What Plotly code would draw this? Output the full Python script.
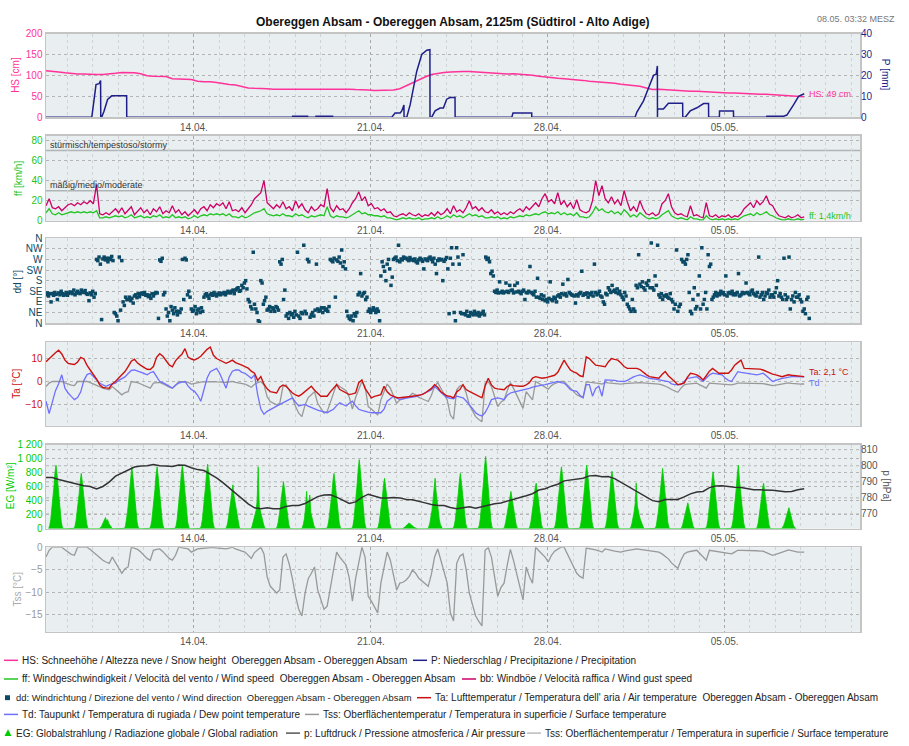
import pandas as pd
import plotly.graph_objects as go

W, H = 909, 746
FONT = "Liberation Sans, Arial, sans-serif"

START = "2024-04-08 03:30"
X_RANGE = ["2024-04-08 03:30", "2024-05-10 08:30"]
TICK_DATES = ["2024-04-14", "2024-04-21", "2024-04-28", "2024-05-05"]
TICK_LABELS = ["14.04.", "21.04.", "28.04.", "05.05."]

# ---------------- data ----------------
# snow height, 6-hourly [cm]
HS = [111,110,108,106, 104,103,103,102, 102,102,103,105, 107,107,106,104, 99,98,98,97,
      92,92,91,90, 86,85,85,83, 80,78,77,73, 70,69,69,68, 67,67,67,67, 67,67,68,68,
      68,68,68,67, 67,66,66,65, 64,64,64,65, 68,75,82,90, 96,102,105,107, 108,109,109,109,
      108,108,107,106, 104,103,104,103, 101,100,98,96, 94,93,92,91, 89,88,86,85,
      83,82,81,79, 77,76,74,70, 66,67,66,65, 63,62,62,62, 61,61,60,59, 58,58,57,57,
      56,55,55,54, 53,52,52,51, 49]

# precipitation (accumulating, reset) [mm]
P_TIME = ["2024-04-08 03:30","2024-04-09 23:00","2024-04-10 03:00","2024-04-10 05:50","2024-04-10 07:20",
          "2024-04-10 07:30","2024-04-10 08:20","2024-04-10 10:35","2024-04-10 14:00","2024-04-10 17:55",
          "2024-04-11 08:05","2024-04-11 08:10","2024-04-17 21:40","2024-04-17 21:45","2024-04-18 11:55",
          "2024-04-18 12:00","2024-04-18 19:50","2024-04-18 19:55","2024-04-19 11:40","2024-04-19 11:45",
          "2024-04-21 19:50","2024-04-21 23:00","2024-04-22 03:50","2024-04-22 05:20","2024-04-22 07:25",
          "2024-04-22 07:30","2024-04-22 10:05","2024-04-22 13:20","2024-04-22 19:35","2024-04-23 00:20",
          "2024-04-23 05:05","2024-04-23 08:05","2024-04-23 08:10","2024-04-23 09:45","2024-04-23 13:00",
          "2024-04-23 17:45","2024-04-23 20:55","2024-04-24 00:00","2024-04-24 03:10","2024-04-24 07:55",
          "2024-04-24 08:00","2024-04-26 13:50","2024-04-26 15:00","2024-04-27 08:45","2024-04-27 08:50",
          "2024-05-01 10:55","2024-05-01 12:30","2024-05-01 18:55","2024-05-01 23:40","2024-05-02 04:25",
          "2024-05-02 06:55","2024-05-02 08:05","2024-05-02 08:10","2024-05-02 08:15","2024-05-02 13:50",
          "2024-05-02 17:00","2024-05-02 18:35","2024-05-03 08:05","2024-05-03 08:10","2024-05-03 10:30",
          "2024-05-03 15:15","2024-05-03 21:35","2024-05-04 04:00","2024-05-04 08:40","2024-05-04 08:45",
          "2024-05-04 19:00","2024-05-04 19:05","2024-05-05 08:20","2024-05-05 08:25","2024-05-06 16:00",
          "2024-05-06 16:05","2024-05-07 07:55","2024-05-07 11:05","2024-05-07 17:30","2024-05-07 22:10",
          "2024-05-08 03:30"]
P_VAL = [0,0,15.6,16,17.5, 0,0,2.8,8.5,10.2, 10.2,0,0,0.5,0.5, 0,0,0.5,0.5,0,
         0,2,2,3,5.8, 0,0,6,22,30, 32,32.3,0,0,3, 4.4,4.4,8.6,9.4,9.4,
         0,0,2,2,0, 0,2.3,7.8,14,20, 20.5,24.5,0,3.9,3.9, 5.5,6.7,6.7,0,0,
         3,4.5,6.5,6.5,0, 0,3,3,0,0, 0.5,0.5,1,6,10, 11.2]

# wind gust bb and wind speed ff, 3-hourly [km/h]
BB = [15,22,13,12,14, 10,13,16,17,15, 18,16,19,17,20, 17,36,7,6,8, 6,9,12,8,13, 7,10,14,6,9,
      13,8,11,6,12, 9,14,7,10,8, 15,8,11,6,9, 5,8,11,7,12, 14,10,16,13,17, 15,18,12,19,10,
      11,9,13,8,12, 16,22,25,28,40, 18,15,12,16,13, 19,12,14,10,20, 13,17,11,8,14, 10,12,16,14,32,
      13,9,15,11,12, 8,12,18,22,29, 20,24,15,17,12, 13,10,12,8,9, 5,4,6,7,5, 8,6,5,7,4,
      6,5,8,5,9, 6,8,12,7,15, 9,11,8,13,20, 12,14,10,13,9, 8,11,7,9,6, 8,6,9,7,10,
      12,9,14,11,15, 18,14,22,27,19, 21,17,28,16,20, 14,18,12,21,11, 9,8,10,20,40, 25,35,22,18,24,
      17,21,15,30,19, 10,14,9,20,12, 7,6,8,5,7, 17,20,27,14,8, 6,7,5,4,15, 5,6,4,3,18,
      5,4,6,3,5, 4,6,3,5,4, 7,12,15,18,13, 20,16,19,25,17, 15,9,5,4,3, 5,3,4,6,3, 4]
FF = [8,12,7,6,8, 6,7,8,9,8, 9,8,9,8,9, 8,10,3,3,4, 3,4,5,4,5, 3,4,6,3,4,
      5,3,4,3,5, 4,6,3,4,3, 6,3,4,3,4, 2,3,5,3,5, 6,5,7,6,7, 6,7,5,7,4,
      4,3,5,3,4, 6,8,9,10,12, 7,6,5,6,5, 7,5,5,4,7, 5,6,4,3,5, 4,5,6,5,14,
      5,3,5,4,4, 3,4,6,8,10, 7,8,6,6,5, 5,4,5,3,3, 2,1,2,3,2, 3,2,2,3,1,
      2,2,3,2,4, 2,3,5,3,6, 4,5,3,5,7, 5,6,4,5,3, 3,4,3,4,2, 3,2,4,3,4,
      5,4,6,5,6, 7,6,8,9,7, 8,7,9,6,8, 6,7,5,8,4, 4,3,4,8,14, 10,12,9,8,10,
      7,9,6,11,8, 4,6,4,8,5, 3,2,3,2,3, 6,8,10,5,3, 2,3,2,1,4, 2,2,1,1,5,
      2,1,2,1,2, 1,2,1,2,1, 3,5,6,7,5, 8,6,7,9,6, 5,3,2,1,1, 2,1,1,2,1, 1.4]

# wind direction samples per 6-hour slot [deg]
DD_SLOTS = [
    [120,128,115,125,90],[125,118,130,122,100],[128,120,135,125,118],[122,130,118,126,132],
    [130,125,140,120,128],[135,128,125,140,132],[130,138,125,122,95],[128,120,135,110,125],
    [270,265,280,250,15],[272,280,268,275,260],[275,270,282,265,45],[40,30,10,280,55],
    [265,90,75,110,100],[100,110,95,105,85],[115,120,108,125,112],[125,128,122,130,118],
    [120,112,118,105,125],[115,125,130,128,20],[268,262,275,120,130],[60,30,45,10,70],
    [55,40,65,50,35],[50,45,60,270,100],[275,268,120,135,110],[60,50,55,70,40],
    [55,60,45,65,50],[110,120,125,115,105],[120,125,118,130,122],[115,122,128,120,125],
    [125,130,120,128,135],[130,128,135,140,125],[140,145,150,135,138],[160,150,170,180,145],
    [100,90,70,60,300],[80,60,45,10,5],[180,170,80,95,110],[55,60,70,50,65],
    [60,50,70,65,55],[260,250,270,100,140],[30,40,20,45,35],[40,25,50,35,300],
    [30,20,45,40,330],[50,40,270,260,25],[35,45,30,55,250],[60,50,55,65,45],
    [65,55,60,50,70],[270,265,260,275,110],[268,262,280,255,310],[240,260,230,50,30],
    [20,15,30,10,40],[30,45,120,130,210],[115,125,130,100,110],[50,60,45,55,65],
    [55,45,60,50,10],[200,260,240,220,180],[250,270,230,160,195],[270,275,280,265,330],
    [260,272,268,280,275],[275,270,265,278,268],[270,265,272,260,255],[268,275,270,262,230],
    [272,268,265,275,280],[270,260,275,250,210],[265,272,268,270,180],[262,270,278,230,40],
    [275,320,250,45,10],[320,280,250,45,40],[290,40,35,50,30],[30,45,40,35,50],
    [40,35,45,30,38],[42,50,35,280,270],[275,260,210,220,200],[135,130,140,128,175],
    [130,135,128,132,170],[135,130,160,138,140],[128,160,132,170,135],[130,125,135,140,100],
    [130,128,135,240,130],[125,120,135,110,190],[110,105,120,100,115],[95,100,90,105,175],
    [100,95,110,105,90],[115,120,110,125,165],[120,125,115,185,130],[125,120,118,115,85],
    [120,115,125,130,220],[118,125,122,128,110],[125,120,130,115,250],[130,120,125,135,115],
    [110,90,80,125,120],[150,140,130,160,135],[140,130,145,125,135],[120,110,100,130,115],
    [80,70,60,50,100],[60,50,160,150,290],[165,155,175,150,140],[170,160,180,150,340],
    [150,140,200,160,330],[120,110,125,100,115],[115,120,110,105,125],[100,90,60,80,310],
    [50,70,80,270,260],[260,250,270,290,130],[50,40,100,150,60],[70,120,200,60,320],
    [80,100,130,60,290],[240,250,100,110,120],[130,115,125,120,135],[125,130,120,200,115],
    [128,130,125,135,120],[125,120,130,210,115],[120,130,125,128,170],[130,125,120,135,140],
    [125,120,115,130,280],[110,120,130,100,115],[130,125,140,110,120],[120,110,130,150,180],
    [115,125,110,100,275],[120,100,110,280,60],[100,115,90,130,110],[110,120,100,90,50],
    [60,40,100,110,20]]

# air temperature, dew point, surface temperature, 3-hourly [°C]
TA = [8.6,10,11,12.5,13.6,12,9.3,7.9,7.6,7.4, 8.5,10.5,9.8,7,5,3.2,1,-1.4,-2.6,-2.8,
      -2.9,-1,0,1.5,3,4.3,6.5,8.8,9.7,8, 7,6.2,5.3,5.2,6.5,10.5,12.1,11,9,7.2,
      6.4,9,10.5,11.8,14.3,10.5,9.8,9.4,10,11, 12.5,14,15,11.4,10,9.3,8.5,7.9,8.5,9.3,
      8.2,7.8,7.1,6.5,5.8,4.5,3.6,0.5,2.1,-1.2, -3.2,-4.4,-4.8,-5,-2.5,-1.5,-2.1,-3.5,-5,-5.8,
      -6.4,-5.5,-4.3,-3,-2.1,-3.8,-5.2,-6.4,-6.4,-6.4, -4.5,-2.9,-1.4,-3.5,-4.3,-5,-5.7,-5.4,-5,-0.5,
      0.7,-3,-5.2,-7.1,-6.5,-6,-5.7,-2.1,-4.5,-5.8, -6.5,-7,-7.1,-7,-6.8,-6.6,-6.4,-6.2,-6,-5.7,
      -5,-4,-3,-1.4,-2.5,-4.5,-5.5,-6.3,-6.5,-7.1, -4.5,-3.5,-1.4,-3.5,-4.3,-5,-5.7,-6.5,-7.1,-2,
      1.4,-1.5,-2.9,-3.2,-3.5,-3.6,-2.2,-1.4,-1.8,-2.1, -2.1,-2.1,-1.5,-0.5,1.5,2.1,1.6,1.4,1.6,2,
      2.3,2.7,4,6.5,9.3,7,5,4.2,3.6,2.5, 2.1,10.7,10,8.5,7.1,6.9,6.6,6.4,8.5,10,
      9.6,9.3,8,6.5,5.7,5.7,5.7,5.7,5.2,4, 3,2.1,1.9,1.6,1.4,3,4.3,2.5,1.4,0,
      -1.4,-1,-0.7,1.8,3.6,3.3,2.9,2,0.7,2.5, 4.5,5.7,4.8,3.6,3.6,3.6,3.6,5,7.1,8.2,
      9.3,5.7,5.7,5.7,5.7,5.7,5.4,5,4.3,3.6, 3.2,2.9,2.5,2.1,2.5,2.9,2.7,2.5,2.2,2.1,2.1]
TD = [-8.6,-14,-9,-4,-1,2.9,-2.9,-5,-6.5,-7.9, -7,-4.5,0.5,3,3.6,2.1,0.5,-0.7,-1.5,-2.1,
      -1.5,-1,-0.7,0.5,1.4,2,3.5,4.8,5,4.5, 4.3,3.5,2.9,3.8,4.3,2,0,-0.5,-1.4,-2,
      -2.9,-1.5,-0.7,-0.3,0,-2,-3.5,-4.3,-6,-8.6, -3,1.5,4.3,5,5.7,3.5,0,-2.9,2,4.5,
      5,5,4,3.6,2.5,1.4,2.9,-5.7,-12,-14.3, -13,-12.1,-11.5,-10.7,-10,-9.3,-8.6,-8,-7.1,-9,
      -10.7,-10.3,-10,-10.7,-11.4,-12,-12.5,-12.9,-13.2,-13.6, -12.8,-12.1,-10.5,-9.3,-10,-10.7,-9.5,-8.6,-10.5,-12.1,
      -12.6,-13.1,-13.3,-13.6,-13.6,-13.6,-13.6,-12,-8.6,-7.5, -6.4,-7.2,-7.9,-7.5,-7.3,-7.1,-7.1,-6.6,-6.2,-5.7,
      -5,-4.3,-3.6,-2.1,-3.5,-5,-6,-7,-7.1,-7.5, -6.4,-6.8,-7.1,-8.5,-10,-11.8,-13.6,-14.5,-15,-13.5,
      -11,-7.9,-7.5,-7.1,-7.5,-7.9,-6,-5,-4.6,-4.3, -4,-3.8,-3.6,-3,-2.5,-2.1,-1.8,-1.6,-1.4,-1,
      -0.5,-0.2,0,-0.5,-0.7,-2,-3.6,-4,-4.3,-6, -7.1,-1.4,-1.4,-6.4,-3,-2.1,-6.4,0.7,0.7,0.7,
      0.5,0.2,0,0,0.5,1.4,2,2.5,2.9,2.4, 1.8,1.4,1.2,1,0.7,0.5,0.2,0,-1,-1.4,
      -1.4,-1.4,0,1.4,1.6,1.9,2.1,1,0,1.5, 2.8,3.6,3.3,3,2.9,1.5,0.5,0,2,4.3,
      4,3.8,3.6,3.6,3.2,2.9,3.2,3.6,2.5,1.2, 0,0.5,1,1.4,1.6,2,2.1,2.1,2,2,2]
TSS = [-2.2,-0.7,0,0,0,0,-0.6,-1.2,-1.6,-1.8, 0,0,0,0,-0.5,-1.1,-1.8,-2.5,-2.9,-3.3,
       -3.6,-2.2,-3.3,-4.5,-5.8,-4.8,-4.4,0,-0.2,-0.5, -1.1,-1.8,-2.5,-2.9,-0.7,-0.5,-0.4,-1,-1.8,-2.5,
       -2.9,-1.8,0,-0.1,-0.2,-0.4,-1.1,-0.8,-0.4,-0.3, -0.2,-0.1,-0.1,-0.1,-0.2,-0.3,-0.4,-0.4,-0.2,0,
       -0.4,-0.7,-0.9,-1.1,-1.8,-2.5,-1.2,-0.5,0,-1.5, -6.6,-8.7,-9.5,-10.2,-9.5,-2.2,-1.5,-3.8,-7,-10.9,
       -13.8,-15.3,-10.2,-7,-5.8,-4.4,-9.5,-11.7,-13.8,-13.1, -9,-5.1,-1.1,-2.2,-3,-4,-6.9,-12,-7,-3.6,
       0,-2.2,-10.9,-12,-13.2,-14.6,-8,-4.4,-1.1,-2.9, -6,-9.5,-8,-7.8,-7.3,-6.5,-5.1,-5.8,-6.9,-7.5,
       -8.2,-8.7,-6,-2.2,-0.4,-3,-5.1,-8,-14.6,-16.4, -3.6,-2,-1.5,-5,-10.2,-12.5,-15.3,-16.5,-17.5,-0.7,
       -0.1,-2.2,-6.5,-10.9,-9,-8,-4,-0.5,-3,-5.8, -9,-11.7,-4.4,-6.5,-8,0,-0.8,-1.5,-2.2,-3.3,
       -1.8,-0.9,-0.4,0,0,-1.5,-2.9,-4.3,-5.8,-6.5, -6.9,-0.2,-0.3,-0.4,-0.6,-0.8,-1.1,-0.4,-0.6,-0.8,
       -0.9,-1,-1.1,-0.9,-0.8,-0.7,-0.6,-0.4,-0.5,-0.6, -0.7,-0.7,-0.8,-0.9,-1.1,-1.5,-2,-2.6,-3.5,-4.2,
       -4.7,-2.9,-1.5,-1.1,-0.9,-0.8,-0.7,-1.5,-2.3,-2.9, -0.7,-0.8,-0.9,-1,-1.1,-1.2,-1.3,-1.5,-1.1,-0.7,
       -0.7,-0.7,-0.7,-0.7,-0.8,-0.8,-0.9,-0.9,-1.2,-1.5, -1.8,-1.6,-1.4,-1.1,-0.9,-0.6,-0.8,-1,-1.1,-1.1,-1.1]

# global radiation, hourly values 06..20 h for each day from 08.04. [W/m²]
EG_DAY0 = "2024-04-08"
EG_DAYS = [
    [5,40,130,260,410,590,790,906,770,580,390,220,100,25,0],
    [5,35,110,220,350,500,680,789,660,490,320,180,80,20,0],
    [0,10,30,60,100,140,160,110,130,80,50,25,10,0,0],
    [5,40,125,250,400,570,770,882,750,560,380,210,95,25,0],
    [5,40,120,245,395,565,765,882,745,555,375,205,90,25,0],
    [5,40,130,260,410,590,790,906,770,580,390,220,100,25,0],
    [5,42,132,265,420,600,800,920,780,590,395,225,100,25,0],
    [0,25,80,170,280,400,520,626,470,380,330,200,90,25,0],
    [0,25,80,150,210,260,400,882,320,250,210,150,70,20,0],
    [0,30,90,180,300,440,580,672,560,420,270,150,60,15,0],
    [0,20,70,150,300,532,280,400,480,230,150,90,40,10,0],
    [5,35,110,220,350,500,680,789,660,490,320,180,80,20,0],
    [5,45,140,280,450,640,850,985,830,620,410,230,100,25,0],
    [0,30,100,200,320,460,620,719,600,450,300,170,70,20,0],
    [0,5,20,35,50,65,80,75,65,50,35,20,10,0,0],
    [0,25,80,160,260,400,580,719,520,360,230,130,60,15,0],
    [5,35,110,220,350,500,680,789,660,490,320,180,80,20,0],
    [5,50,150,300,470,670,890,1030,860,650,430,240,110,25,0],
    [0,30,90,180,290,400,500,532,440,340,230,130,55,15,0],
    [0,30,95,190,310,440,580,649,540,400,260,140,60,15,0],
    [5,40,125,250,400,570,770,882,750,560,380,210,95,25,0],
    [5,40,130,260,410,590,790,906,770,580,390,220,100,25,0],
    [5,35,115,230,370,530,710,820,680,500,330,190,80,20,0],
    [0,25,80,150,240,360,650,330,230,180,130,80,35,10,0],
    [5,40,120,240,390,560,750,860,720,540,360,200,90,20,0],
    [0,15,50,110,180,250,330,370,300,220,150,85,35,10,0],
    [5,35,115,230,370,530,700,812,680,500,330,190,80,20,0],
    [5,40,125,250,400,570,780,906,700,520,350,200,90,20,0],
    [0,30,95,190,310,440,580,649,520,390,260,140,60,15,0],
    [0,15,45,90,140,200,270,300,240,170,110,60,25,5,0]]
EG_HOURS = list(range(6, 21))

# air pressure, 6-hourly [hPa]
PRES = [792.7,792.7,791.4,790.4,789.4,788.6,787.5,787.1,785.6,787.1,
        789.8,793.5,795.3,797.1,799.2,799.8,800,800.8,800,799.8,
        799.5,800.5,800.3,798.8,797.6,797,795,792.5,789.5,786.3,
        783,779.5,776.3,773.8,773.3,773.8,773.3,773.3,774.7,775.3,
        775.3,776.5,778.5,780.8,781.8,782,780.5,778.5,776.5,777.5,
        780.3,782.3,781,780,780,780.3,780,779,778.8,778,
        776.9,775.9,775.3,775.2,774,773.3,773.9,774.5,773.5,774.4,
        775.6,776.4,776.8,778,779.5,780.3,781.3,782.6,784.9,785.7,
        787.3,788.5,790.6,791.2,791.6,792.2,793.7,793.9,793.2,793.3,
        792,789.8,787.5,785,783.2,781,778.3,777.6,779,779,
        779,780.6,782.5,783.7,784,786.4,787.4,787.6,787,786.6,
        786.5,785.8,785.1,785,785.1,784.8,784.3,783.8,784,785.1,785.7]

DIR_VALS = [0, 45, 90, 135, 180, 225, 270, 315, 360]
DIR_LABELS = ["N", "NE", "E", "SE", "S", "SW", "W", "NW", "N"]
EG_TICKS = [0, 200, 400, 600, 800, 1000, 1200]
EG_TICKTEXT = ["0", "200", "400", "600", "800", "1 000", "1 200"]

# ---------------- colours ----------------
C_HS = "#ff3399"
C_P = "#1f1f8a"
C_FF = "#22c422"
C_BB = "#cc0066"
C_DD = "#0b4a66"
C_TA = "#cc1111"
C_TD = "#7070ff"
C_TSS = "#999999"
C_EG = "#00cc00"
C_PR = "#333333"

# ---------------- time axes ----------------
t3 = lambda n: pd.date_range(START, periods=n, freq="3h")
t6 = lambda n: pd.date_range(START, periods=n, freq="6h")

slot_t = t6(len(DD_SLOTS))
dd_x, dd_y = [], []
for ts, vals in zip(slot_t, DD_SLOTS):
    for k, v in enumerate(vals):
        dd_x.append(ts + pd.Timedelta(minutes=360 * k / len(vals)))
        dd_y.append(v)

eg_x, eg_y = [], []
for d, vals in enumerate(EG_DAYS):
    day = pd.Timestamp(EG_DAY0) + pd.Timedelta(days=d)
    for h, v in zip(EG_HOURS, vals):
        eg_x.append(day + pd.Timedelta(hours=h))
        eg_y.append(v)

fig = go.Figure()
fig.add_trace(go.Scatter(x=t6(len(HS)), y=HS, mode="lines", line=dict(color=C_HS, width=1.5), xaxis="x", yaxis="y"))
fig.add_trace(go.Scatter(x=pd.to_datetime(P_TIME), y=P_VAL, mode="lines", line=dict(color=C_P, width=1.5), xaxis="x", yaxis="y2"))
fig.add_trace(go.Scatter(x=t3(len(BB)), y=BB, mode="lines", line=dict(color=C_BB, width=1.3), xaxis="x2", yaxis="y3"))
fig.add_trace(go.Scatter(x=t3(len(FF)), y=FF, mode="lines", line=dict(color=C_FF, width=1.3), xaxis="x2", yaxis="y3"))
fig.add_trace(go.Scatter(x=dd_x, y=dd_y, mode="markers", marker=dict(color=C_DD, size=3.5, symbol="square"), xaxis="x3", yaxis="y4"))
fig.add_trace(go.Scatter(x=t3(len(TSS)), y=TSS, mode="lines", line=dict(color=C_TSS, width=1.3), xaxis="x4", yaxis="y5"))
fig.add_trace(go.Scatter(x=t3(len(TD)), y=TD, mode="lines", line=dict(color=C_TD, width=1.3), xaxis="x4", yaxis="y5"))
fig.add_trace(go.Scatter(x=t3(len(TA)), y=TA, mode="lines", line=dict(color=C_TA, width=1.4), xaxis="x4", yaxis="y5"))
fig.add_trace(go.Scatter(x=eg_x, y=eg_y, mode="lines", line=dict(color=C_EG, width=0.8), fill="tozeroy", fillcolor=C_EG, xaxis="x5", yaxis="y6"))
fig.add_trace(go.Scatter(x=t6(len(PRES)), y=PRES, mode="lines", line=dict(color=C_PR, width=1.5), xaxis="x5", yaxis="y7"))
fig.add_trace(go.Scatter(x=t3(len(TSS)), y=TSS, mode="lines", line=dict(color=C_TSS, width=1.3), xaxis="x6", yaxis="y8"))

# ---------------- layout ----------------
def px_x(px):
    return px / W

def px_y(px):
    return 1 - px / H

PANELS = [(28, 113), (132, 218.3), (236, 322.3), (341.7, 426.7), (445.7, 531.3), (550, 636)]
XDOM = [px_x(46), px_x(860)]
BORDER = "#c4c4c4"
GRID = "#b4b4b4"

def xax(anchor, first=False):
    d = dict(domain=XDOM, anchor=anchor, type="date", range=X_RANGE,
             tickvals=TICK_DATES, ticktext=TICK_LABELS, ticks="",
             tickfont=dict(size=10, color="#555555", family=FONT),
             showgrid=True, gridcolor="#a8a8a8", griddash="dot", gridwidth=1,
             minor=dict(dtick=86400000, tick0="2024-04-08", showgrid=True,
                        gridcolor="#d0d4d6", griddash="dot", gridwidth=1),
             showline=True, mirror=True, linecolor=BORDER, linewidth=1.5,
             zeroline=False, fixedrange=True)
    if not first:
        d["matches"] = "x"
    return d

def yax(panel, rng, color, **kw):
    top, bot = PANELS[panel]
    d = dict(domain=[px_y(bot), px_y(top)], range=rng, ticks="",
             tickfont=dict(size=10, color=color, family=FONT),
             showgrid=True, gridcolor=GRID, griddash="dot", gridwidth=1,
             showline=True, mirror=True, linecolor=BORDER, linewidth=1.5,
             zeroline=False, fixedrange=True)
    d.update(kw)
    return d

layout = dict(
    width=W, height=H, margin=dict(l=0, r=0, t=0, b=0),
    paper_bgcolor="white", plot_bgcolor="#e9eef0", showlegend=False,
    font=dict(family=FONT, size=10, color="#333333"),
    xaxis=xax("y", first=True), xaxis2=xax("y3"), xaxis3=xax("y4"),
    xaxis4=xax("y5"), xaxis5=xax("y6"), xaxis6=xax("y8"),
    yaxis=yax(0, [0, 200], C_HS, anchor="x", tickvals=[0, 50, 100, 150, 200]),
    yaxis2=yax(0, [0, 40], C_P, anchor="x", overlaying="y", side="right",
               tickvals=[0, 10, 20, 30, 40], showgrid=False, showline=False),
    yaxis3=yax(1, [0, 84.6], C_FF, anchor="x2", tickvals=[0, 20, 40, 60, 80]),
    yaxis4=yax(2, [0, 360], C_DD, anchor="x3", tickvals=DIR_VALS, ticktext=DIR_LABELS),
    yaxis5=yax(3, [-19.3, 17.1], C_TA, anchor="x4", tickvals=[-10, 0, 10]),
    yaxis6=yax(4, [0, 1200], C_EG, anchor="x5", tickvals=EG_TICKS, ticktext=EG_TICKTEXT),
    yaxis7=yax(4, [760.8, 813.2], "#555555", anchor="x5", overlaying="y6", side="right",
               tickvals=[770, 780, 790, 800, 810], showgrid=False, showline=False),
    yaxis8=yax(5, [-18.8, 0], C_TSS, anchor="x6", tickvals=[-15, -10, -5, 0]),
)
fig.update_layout(**layout)

shapes = []
# wind class lines
for v in (30, 70):
    shapes.append(dict(type="line", xref="x2 domain", yref="y3", x0=0, x1=1, y0=v, y1=v,
                       line=dict(color="#b0b4b6", width=1.5), layer="below"))
# pressure grid
for v in (770, 780, 790, 800, 810):
    shapes.append(dict(type="line", xref="x5 domain", yref="y7", x0=0, x1=1, y0=v, y1=v,
                       line=dict(color=GRID, width=1, dash="dot"), layer="below"))

ann = []
def text(x, y, s, color="#222222", size=10, xanchor="left", angle=0, bold=False):
    ann.append(dict(x=px_x(x), y=px_y(y), xref="paper", yref="paper", text=("<b>%s</b>" % s) if bold else s,
                    showarrow=False, xanchor=xanchor, yanchor="middle", textangle=angle,
                    font=dict(size=size, color=color, family=FONT)))

text(453, 16, "Obereggen Absam - Obereggen Absam, 2125m (Südtirol - Alto Adige)", "#111111", 12, "center", bold=True)
text(897, 13, "08.05. 03:32 MESZ", "#777777", 9, "right")

text(16, 70, "HS [cm]", C_HS, 10, "center", -90)
text(885, 70, "P [mm]", C_P, 10, "center", 90)
text(18, 175, "ff [km/h]", C_FF, 10, "center", -90)
text(17, 280, "dd [°]", C_DD, 10, "center", -90)
text(17, 384, "Ta [°C]", C_TA, 10, "center", -90)
text(10, 488, "EG [W/m²]", C_EG, 10, "center", -90)
text(887, 488, "p [hPa]", "#555555", 10, "center", 90)
text(17, 593, "Tss [°C]", "#aaaaaa", 10, "center", -90)

text(48, 141, "stürmisch/tempestoso/stormy", "#333333", 9)
text(48, 182, "mäßig/medio/moderate", "#333333", 9)

text(807, 89, "HS: 49 cm", C_HS, 9)
text(807, 213, "ff: 1,4km/h", C_FF, 9)
text(807, 372, "Ta: 2,1 °C", C_TA, 9)
text(807, 383, "Td", C_TD, 9)

# legend
LEG = [
    (665, [("line", 4, C_HS, "HS: Schneehöhe / Altezza neve / Snow height  Obereggen Absam - Obereggen Absam", 10),
           ("line", 413, C_P, "P: Niederschlag / Precipitazione / Precipitation", 10)]),
    (684, [("line", 4, C_FF, "ff: Windgeschwindigkeit / Velocità del vento / Wind speed  Obereggen Absam - Obereggen Absam", 10),
           ("line", 462, C_BB, "bb: Windböe / Velocità raffica / Wind gust speed", 10)]),
    (703, [("square", 4, C_DD, "dd: Windrichtung / Direzione del vento / Wind direction  Obereggen Absam - Obereggen Absam", 9.4),
           ("line", 417, C_TA, "Ta: Lufttemperatur / Temperatura dell' aria / Air temperature  Obereggen Absam - Obereggen Absam", 10)]),
    (720, [("line", 4, C_TD, "Td: Taupunkt / Temperatura di rugiada / Dew point temperature", 10),
           ("line", 305, C_TSS, "Tss: Oberflächentemperatur / Temperatura in superficie / Surface temperature", 10)]),
    (739, [("tri", 4, C_EG, "EG: Globalstrahlung / Radiazione globale / Global radiation", 10),
           ("line", 286, "#555555", "p: Luftdruck / Pressione atmosferica / Air pressure", 10),
           ("line", 527, "#bbbbbb", "Tss: Oberflächentemperatur / Temperatura in superficie / Surface temperature", 10)]),
]
for y, items in LEG:
    for kind, x, col, label, fs in items:
        if kind == "line":
            shapes.append(dict(type="line", xref="paper", yref="paper", x0=px_x(x), x1=px_x(x + 14),
                               y0=px_y(y), y1=px_y(y), line=dict(color=col, width=1.5)))
            text(x + 16, y, label, "#222222", fs)
        elif kind == "square":
            shapes.append(dict(type="rect", xref="paper", yref="paper", x0=px_x(x + 1), x1=px_x(x + 6),
                               y0=px_y(y + 2.5), y1=px_y(y - 2.5), line=dict(width=0), fillcolor=col))
            text(x + 10, y, label, "#222222", fs)
        else:
            shapes.append(dict(type="path", xref="paper", yref="paper",
                               path="M %f %f L %f %f L %f %f Z" % (px_x(x + 0.5), px_y(y + 3), px_x(x + 7.5), px_y(y + 3), px_x(x + 4), px_y(y - 4)),
                               line=dict(width=0), fillcolor=col))
            text(x + 10, y, label, "#222222", fs)

fig.update_layout(shapes=shapes, annotations=ann)
fig.write_html("out.html", include_plotlyjs=True, full_html=True,
               config={"displayModeBar": False, "staticPlot": True},
               post_script="document.body.style.margin='0';")
